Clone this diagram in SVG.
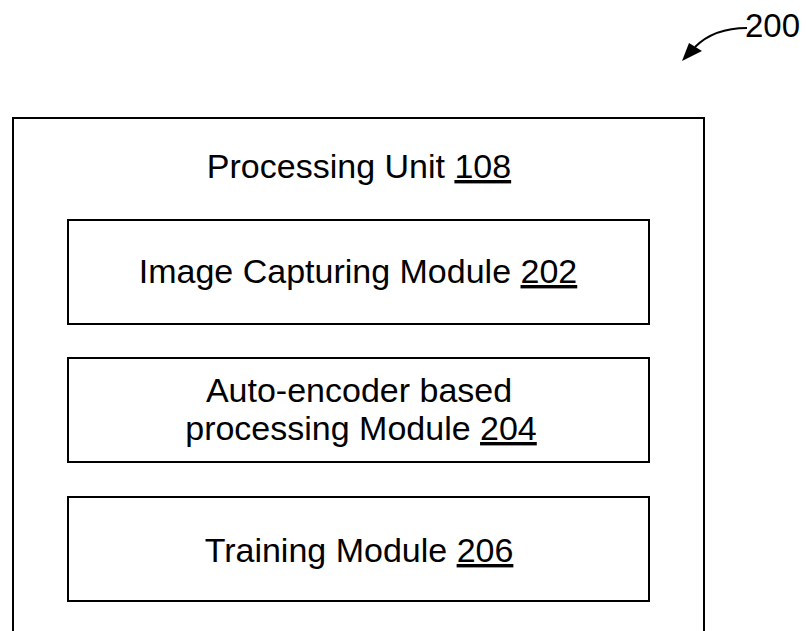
<svg xmlns="http://www.w3.org/2000/svg" width="806" height="631" viewBox="0 0 806 631">
<style>
.box{fill:#fff;stroke:#000;stroke-width:2}
.t{font-family:"Liberation Sans",Arial,sans-serif;font-size:34px;fill:#000;text-anchor:middle}
.u{text-decoration:underline}
</style>
<rect width="806" height="631" fill="#fff"/>
<g id="connectors">
<path d="M747,28 C722,28 706,36 695,47" fill="none" stroke="#000" stroke-width="2"/>
<polygon points="682,61 689,43 702,51" fill="#000"/>
</g>
<g id="label-200">
<text class="t" x="800" y="37" style="text-anchor:end;font-size:33px">200</text>
</g>
<g id="processing-unit">
<path class="box" d="M13,633 V118 H704 V633" fill="none"/>
<text class="t" x="359" y="178">Processing Unit <tspan class="u">108</tspan></text>
</g>
<g id="image-capturing">
<rect class="box" x="68" y="220" width="581" height="104"/>
<text class="t" x="358" y="283">Image Capturing Module <tspan class="u">202</tspan></text>
</g>
<g id="auto-encoder">
<rect class="box" x="68" y="358" width="581" height="104"/>
<text class="t" x="359" y="402">Auto-encoder based</text>
<text class="t" x="361" y="440">processing Module <tspan class="u">204</tspan></text>
</g>
<g id="training">
<rect class="box" x="68" y="497" width="581" height="104"/>
<text class="t" x="359" y="562">Training Module <tspan class="u">206</tspan></text>
</g>
</svg>
